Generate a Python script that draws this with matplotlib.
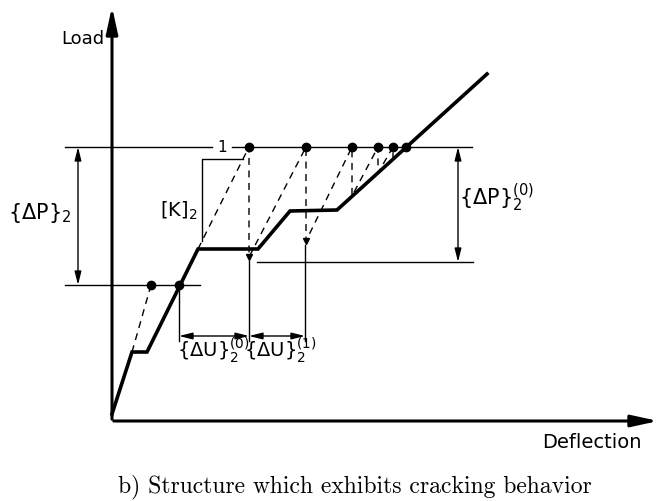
import numpy as np
import matplotlib
matplotlib.use('Agg')
import matplotlib.pyplot as plt

plt.rcParams['mathtext.fontset'] = 'dejavusans'
plt.rcParams['font.family'] = 'DejaVu Sans'

# load-deflection curve (cracking structure), arbitrary units
curve_d = [0, 20, 35, 86, 146, 178, 225, 375]
curve_l = [7, 69, 69, 172, 172, 210, 211, 347]

p_top = 274      # load level
p_low = 136      # previous load level
p_res = 159      # residual level after first iteration

# iteration path (tangent stiffness [K]_2 and load corrections)
iter_d = [86, 137, 137, 194, 194, 240, 240, 266, 266, 281, 281, 294]
iter_l = [172, 274, 164, 274, 180, 274, 225, 274, 248, 274, 262, 274]

first_d = [20, 39]
first_l = [69, 136]

top_dots = [137, 194, 240, 266, 281, 294]
low_dots = [39, 67]

fig = plt.figure(figsize=(6.61, 5.02), dpi=100)
ax = fig.add_axes([0, 0, 1, 1])
ax.set_xlim(-112, 549)
ax.set_ylim(-80, 422)
ax.axis('off')

# axes with arrows
ax.annotate('', xy=(0, 417), xytext=(0, -1),
            arrowprops=dict(arrowstyle='-|>,head_length=1.6,head_width=0.35', lw=2.2, color='k'))
ax.annotate('', xy=(549, 0), xytext=(-1, 0),
            arrowprops=dict(arrowstyle='-|>,head_length=1.6,head_width=0.35', lw=2.2, color='k'))
ax.text(-8, 383, 'Load', ha='right', va='center', fontsize=13)
ax.text(530, -21, 'Deflection', ha='right', va='center', fontsize=14)

# load levels
ax.plot([-47, 212 - 112], [p_top, p_top], color='k', lw=1)
ax.plot([232 - 112, 360], [p_top, p_top], color='k', lw=1)
ax.plot([-47, 88], [p_low, p_low], color='k', lw=1)
ax.plot([145, 361], [p_res, p_res], color='k', lw=1)

# main curve
ax.plot(curve_d, curve_l, color='k', lw=2.6, solid_joinstyle='miter')

# dashed iteration lines
ax.plot(first_d, first_l, color='k', lw=1, ls=(0, (5, 4)))
ax.plot(iter_d, iter_l, color='k', lw=1, ls=(0, (5, 4)))
ax.plot([137, 194], [164, 180], 'kv', ms=4)

# dots
ax.plot(top_dots, [p_top] * len(top_dots), 'ko', ms=6)
ax.plot(low_dots, [p_low] * len(low_dots), 'ko', ms=6)

# stiffness triangle
ax.plot([90, 90, 131], [180, 262, 262], color='k', lw=1)
ax.text(110, 274, '1', ha='center', va='center', fontsize=11)
ax.text(67, 211, r'$[\mathrm{K}]_2$', ha='center', va='center', fontsize=14)

# extension lines
ax.plot([67, 67], [136, 80], color='k', lw=1)
ax.plot([137, 137], [160, 80], color='k', lw=1)
ax.plot([193, 193], [176, 80], color='k', lw=1)

# dimension arrows
arr = dict(arrowstyle='<|-|>,head_length=0.8,head_width=0.2', lw=1, color='k', shrinkA=0, shrinkB=0)
ax.annotate('', xy=(-34, p_low), xytext=(-34, p_top), arrowprops=arr)
ax.annotate('', xy=(346, p_res), xytext=(346, p_top), arrowprops=arr)
ax.annotate('', xy=(67, 85), xytext=(137, 85), arrowprops=arr)
ax.annotate('', xy=(137, 85), xytext=(193, 85), arrowprops=arr)

ax.text(-72, 209, r'$\{\Delta\mathrm{P}\}_2$', ha='center', va='center', fontsize=15)
ax.text(385, 224, r'$\{\Delta\mathrm{P}\}_2^{(0)}$', ha='center', va='center', fontsize=15)
ax.text(101, 72, r'$\{\Delta\mathrm{U}\}_2^{(0)}$', ha='center', va='center', fontsize=14)
ax.text(168, 72, r'$\{\Delta\mathrm{U}\}_2^{(1)}$', ha='center', va='center', fontsize=14)

ax.text(243, -65, 'b) Structure which exhibits cracking behavior', ha='center', va='center',
        fontsize=17, family='cmr10')

fig.savefig('out.png', dpi=100)
